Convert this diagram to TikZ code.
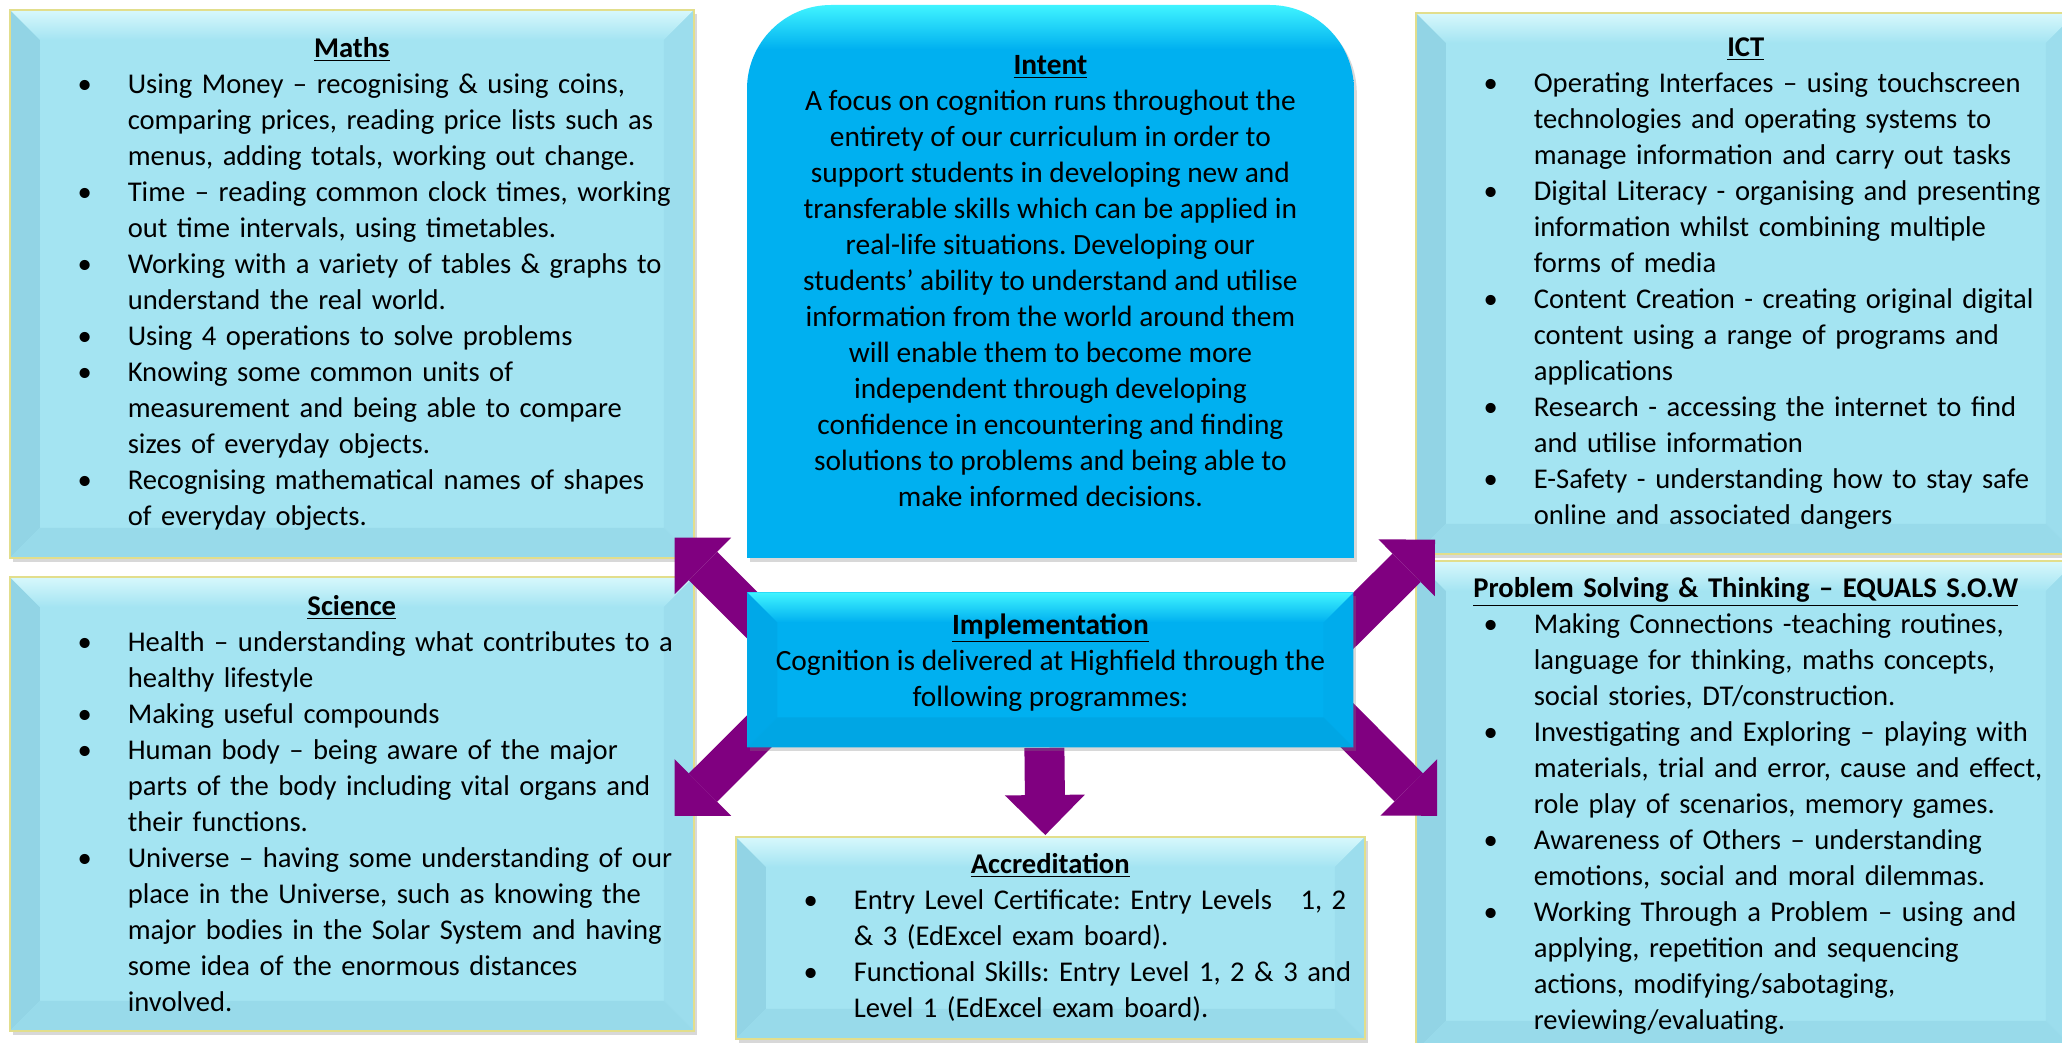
\documentclass[tikz,border=0pt]{standalone}
\usepackage{fontspec}
\setmainfont{Carlito}
\usepackage{enumitem}
\usetikzlibrary{arrows.meta,shadows}
\setlist[itemize]{label=\textbullet, leftmargin=59pt, labelsep=18pt, itemsep=0pt, topsep=0pt, parsep=0pt, partopsep=0pt}

\definecolor{sidefill}{RGB}{164,228,242}
\definecolor{sidetop}{RGB}{216,248,252}
\definecolor{sideleft}{RGB}{146,212,229}
\definecolor{sideright}{RGB}{156,221,237}
\definecolor{sidebottom}{RGB}{152,218,234}
\definecolor{sideedge}{RGB}{226,222,140}
\definecolor{cyanfill}{RGB}{0,176,240}
\definecolor{cyantop}{RGB}{64,244,255}
\definecolor{cyanleft}{RGB}{0,168,232}
\definecolor{cyanright}{RGB}{0,172,236}
\definecolor{cyanbottom}{RGB}{0,166,228}
\definecolor{arrowpurple}{RGB}{128,0,128}

\pgfdeclarelayer{background}
\pgfdeclarelayer{front}
\pgfsetlayers{background,main,front}

\pgfdeclareverticalshading{intentshade}{100bp}{color(0bp)=(cyanfill); color(25bp)=(cyanfill); color(71bp)=(cyanfill); color(75bp)=(cyantop); color(100bp)=(cyantop)}

\newcommand{\boxtitle}[1]{{\centering\underline{\textbf{#1}}\par}}

\tikzset{
  bevel/.style n args={5}{path picture={
    \coordinate (pA) at (path picture bounding box.north west);
    \coordinate (pB) at (path picture bounding box.north east);
    \coordinate (pC) at (path picture bounding box.south east);
    \coordinate (pD) at (path picture bounding box.south west);
    \fill[#3] (pA) -- ([shift={(15pt,-15pt)}]pA) -- ([shift={(15pt,15pt)}]pD) -- (pD) -- cycle;
    \fill[#4] (pB) -- ([shift={(-15pt,-15pt)}]pB) -- ([shift={(-15pt,15pt)}]pC) -- (pC) -- cycle;
    \fill[#5] (pD) -- ([shift={(15pt,15pt)}]pD) -- ([shift={(-15pt,15pt)}]pC) -- (pC) -- cycle;
    \shade[top color=#2, bottom color=#1] (pA) -- (pB) -- ([shift={(-15pt,-15pt)}]pB) -- ([shift={(15pt,-15pt)}]pA) -- cycle;
  }},
  textfont/.style={font=\fontsize{14.7pt}{18pt}\selectfont\frenchspacing},
  sidefont/.style={font=\fontsize{14.3pt}{18pt}\selectfont\frenchspacing},
  boxshadow/.style={drop shadow={shadow xshift=1.5pt, shadow yshift=-2pt, opacity=0.3}},
  sidebox/.style={anchor=north west, inner sep=0pt, fill=sidefill, draw=sideedge, line width=0.8pt,
    bevel={sidefill}{sidetop}{sideleft}{sideright}{sidebottom}, boxshadow, sidefont},
  bigarrow/.style={draw=arrowpurple, line width=20pt, -{Triangle[width=40pt,length=20pt,line width=0pt]}}
}

\begin{document}
\begin{tikzpicture}[x=0.5pt, y=-0.5pt]
    \useasboundingbox (0,0) rectangle (2062,1043);
    \clip (0,0) rectangle (2062,1043);
    \begin{pgfonlayer}{background}
        \fill[white] (0,0) rectangle (2062,1043);
    \end{pgfonlayer}

    % side boxes
    \node[sidebox, minimum width=342pt, minimum height=274pt, text width=342pt] (maths) at (9,9) {\boxtitle{Maths}\raggedright
    \begin{itemize}
        \item Using Money – recognising \& using coins,\\ comparing prices, reading price lists such as\\ menus, adding totals, working out change.
        \item Time – reading common clock times, working\\ out time intervals, using timetables.
        \item Working with a variety of tables \& graphs to\\ understand the real world.
        \item Using 4 operations to solve problems
        \item Knowing some common units of\\ measurement and being able to compare\\ sizes of everyday objects.
        \item Recognising mathematical names of shapes\\ of everyday objects.
    \end{itemize}};
    \node[sidebox, minimum width=342pt, minimum height=227pt, text width=342pt] (science) at (9,576) {\boxtitle{Science}\raggedright
    \begin{itemize}
        \item Health – understanding what contributes to a\\ healthy lifestyle
        \item Making useful compounds
        \item Human body – being aware of the major\\ parts of the body including vital organs and\\ their functions.
        \item Universe – having some understanding of our\\ place in the Universe, such as knowing the\\ major bodies in the Solar System and having\\ some idea of the enormous distances\\ involved.
    \end{itemize}};
    \node[sidebox, minimum width=330pt, minimum height=270.5pt, text width=330pt] (ict) at (1415,12) {\boxtitle{ICT}\raggedright
    \begin{itemize}
        \item Operating Interfaces – using touchscreen\\ technologies and operating systems to\\ manage information and carry out tasks
        \item Digital Literacy - organising and presenting\\ information whilst combining multiple\\ forms of media
        \item Content Creation - creating original digital\\ content using a range of programs and\\ applications
        \item Research - accessing the internet to find\\ and utilise information
        \item E-Safety - understanding how to stay safe\\ online and associated dangers
    \end{itemize}};
    \node[sidebox, minimum width=330pt, minimum height=245pt, text width=330pt] (ps) at (1415,560) {\boxtitle{Problem Solving \& Thinking – EQUALS S.O.W}\raggedright
    \begin{itemize}
        \item Making Connections -teaching routines,\\ language for thinking, maths concepts,\\ social stories, DT/construction.
        \item Investigating and Exploring – playing with\\ materials, trial and error, cause and effect,\\ role play of scenarios, memory games.
        \item Awareness of Others – understanding\\ emotions, social and moral dilemmas.
        \item Working Through a Problem – using and\\ applying, repetition and sequencing\\ actions, modifying/sabotaging,\\ reviewing/evaluating.
    \end{itemize}};
    \node[sidebox, minimum width=314.5pt, minimum height=101pt, text width=314.5pt] (acc) at (735,836) {\boxtitle{Accreditation}\raggedright
    \begin{itemize}
        \item Entry Level Certificate: Entry Levels~~~1, 2\\ \& 3 (EdExcel exam board).
        \item Functional Skills: Entry Level 1, 2 \& 3 and\\ Level 1 (EdExcel exam board).
    \end{itemize}};

    % intent
    \node[anchor=north west, minimum width=303pt, minimum height=276pt, inner sep=0pt, align=center, textfont] (intent) at (747,5) {\underline{\textbf{Intent}}\\
        A focus on cognition runs throughout the\\ entirety of our curriculum in order to\\ support students in developing new and\\ transferable skills which can be applied in\\ real-life situations. Developing our\\ students’ ability to understand and utilise\\ information from the world around them\\ will enable them to become more\\ independent through developing\\ confidence in encountering and finding\\ solutions to problems and being able to\\ make informed decisions.};
    \begin{pgfonlayer}{background}
        \shade[shading=intentshade, boxshadow] [rounded corners=42pt] (intent.north west) rectangle (intent.south east)
            [sharp corners] (intent.west) rectangle (intent.south east);
    \end{pgfonlayer}

    % implementation
    \begin{pgfonlayer}{front}
        \node[anchor=north west, minimum width=303pt, minimum height=77.5pt, inner sep=0pt, align=center, fill=cyanfill,
            bevel={cyanfill}{cyantop}{cyanleft}{cyanright}{cyanbottom}, boxshadow, textfont] (impl) at (747,592)
            {\underline{\textbf{Implementation}}\\ Cognition is delivered at Highfield through the\\ following programmes:\rule[-10pt]{0pt}{0pt}};
    \end{pgfonlayer}

    % arrows
    \draw[bigarrow] ([shift={(30,48)}]impl.north west) -- ([shift={(-20,-21)}]maths.south east);
    \draw[bigarrow] ([shift={(40,-44)}]impl.south west) -- ([shift={(-20,12)}]science.east);
    \draw[bigarrow] ([shift={(-33,61)}]impl.north east) -- ([shift={(20,-15)}]ict.south west);
    \draw[bigarrow] ([shift={(-33,-49)}]impl.south east) -- ([shift={(22,10)}]ps.west);
    \draw[bigarrow] ([shift={(-6,0)}]impl.south) -- ([shift={(-5,-1)}]acc.north);
\end{tikzpicture}
\end{document}
